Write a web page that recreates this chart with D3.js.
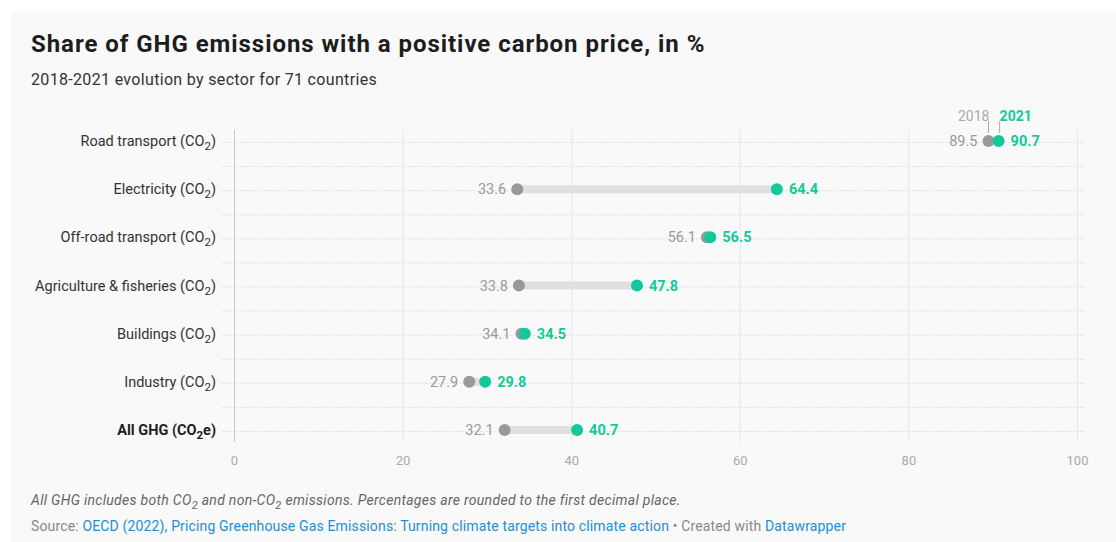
<!DOCTYPE html>
<html>
<head>
<meta charset="utf-8">
<script src="https://cdn.jsdelivr.net/npm/d3@7"></script>
<style>
  html, body { margin: 0; padding: 0; background: #ffffff; }
  svg { display: block; font-family: Roboto, "Noto Sans", sans-serif; }
</style>
</head>
<body>
<svg id="chart" width="1116" height="542"></svg>
<script>
// Sector labels: [main text, subscript, trailing text, bold]
const categories = [
  ["Road transport (CO", "2", ")", false],
  ["Electricity (CO", "2", ")", false],
  ["Off-road transport (CO", "2", ")", false],
  ["Agriculture & fisheries (CO", "2", ")", false],
  ["Buildings (CO", "2", ")", false],
  ["Industry (CO", "2", ")", false],
  ["All GHG (CO", "2", "e)", true]
];
const values2018 = [89.5, 33.6, 56.1, 33.8, 34.1, 27.9, 32.1];
const values2021 = [90.7, 64.4, 56.5, 47.8, 34.5, 29.8, 40.7];
const xTicks = [0, 20, 40, 60, 80, 100];
const seriesNames = ["2018", "2021"];

const GREEN = "#13c99b";
const GREY = "#999999";

const svg = d3.select("#chart");

// panel background
svg.append("rect").attr("x", 11).attr("y", 12).attr("width", 1105).attr("height", 530).attr("fill", "#f9f9f9");

// title and subtitle
svg.append("text").attr("x", 31).attr("y", 52)
  .attr("font-size", 24).attr("font-weight", 700).attr("fill", "#1d1d1d")
  .attr("letter-spacing", 0.95)
  .text("Share of GHG emissions with a positive carbon price, in %");
svg.append("text").attr("x", 31).attr("y", 85)
  .attr("font-size", 16).attr("fill", "#333").attr("letter-spacing", 0.33)
  .text("2018-2021 evolution by sector for 71 countries");

const keys = categories.map((c, i) => i);
const x = d3.scaleLinear().domain([0, 100]).range([234, 1077]);
const y = d3.scalePoint().domain(keys).range([141, 430]);
const step = y.step();

// dotted horizontal guides at each row and halfway between rows
const guideYs = [];
keys.forEach((k, i) => {
  guideYs.push(y(k));
  if (i < keys.length - 1) guideYs.push(y(k) + step / 2);
});
svg.append("g").selectAll("line").data(guideYs).join("line")
  .attr("x1", 222).attr("x2", 1086)
  .attr("y1", d => d + 1.5).attr("y2", d => d + 1.5)
  .attr("stroke", "#dcdcdc").attr("stroke-width", 1)
  .attr("stroke-dasharray", "1.5,1.5");

// vertical grid + x axis labels
const xAxis = d3.axisBottom(x).tickValues(xTicks).tickSize(-(442 - 130)).tickPadding(14);
const gx = svg.append("g").attr("transform", "translate(0,442)").call(xAxis);
gx.select(".domain").remove();
gx.selectAll(".tick line").attr("stroke", d => d === 0 ? "#c8c8c8" : "#e6e6e6").attr("stroke-width", 1);
gx.selectAll(".tick text").attr("font-size", 13).attr("fill", "#aaa")
  .attr("font-family", "Roboto, sans-serif");

// category labels
const labels = svg.append("g").selectAll("text").data(keys).join("text")
  .attr("x", 216).attr("y", k => y(k) + 5)
  .attr("text-anchor", "end").attr("font-size", 14.5)
  .attr("fill", k => categories[k][3] ? "#1d1d1d" : "#333")
  .attr("font-weight", k => categories[k][3] ? 700 : 400);
labels.each(function(k) {
  const t = d3.select(this);
  const c = categories[k];
  t.append("tspan").text(c[0]);
  t.append("tspan").attr("font-size", 11.5).attr("dy", 4).text(c[1]);
  t.append("tspan").attr("dy", -4).text(c[2]);
});

// range bars
const rows = svg.append("g").selectAll("g").data(keys).join("g");
rows.append("line")
  .attr("x1", k => x(values2018[k])).attr("x2", k => x(values2021[k]))
  .attr("y1", k => y(k)).attr("y2", k => y(k))
  .attr("stroke", "#e0e0e0").attr("stroke-width", 8);
rows.append("circle")
  .attr("cx", k => x(values2018[k])).attr("cy", k => y(k)).attr("r", 6)
  .attr("fill", GREY);
rows.append("circle")
  .attr("cx", k => x(values2021[k])).attr("cy", k => y(k)).attr("r", 6)
  .attr("fill", GREEN);

// value labels
rows.append("text")
  .attr("x", k => x(values2018[k]) - 11).attr("y", k => y(k) + 5)
  .attr("text-anchor", "end").attr("font-size", 14.5).attr("fill", GREY)
  .text(k => values2018[k].toFixed(1));
rows.append("text")
  .attr("x", k => x(values2021[k]) + 12).attr("y", k => y(k) + 5)
  .attr("font-size", 14.5).attr("font-weight", 700).attr("fill", GREEN)
  .text(k => values2021[k].toFixed(1));

// series key above the first row
const k0 = keys[0];
const lx18 = x(values2018[k0]), lx21 = x(values2021[k0]);
svg.append("line").attr("x1", lx18).attr("x2", lx18).attr("y1", 121).attr("y2", 133)
  .attr("stroke", "#aaa").attr("stroke-width", 1);
svg.append("line").attr("x1", lx21 + 1).attr("x2", lx21 + 1).attr("y1", 121).attr("y2", 133)
  .attr("stroke", "#aaa").attr("stroke-width", 1);
svg.append("text").attr("x", lx18 + 1).attr("y", 121)
  .attr("text-anchor", "end").attr("font-size", 14).attr("fill", "#aaa")
  .text(seriesNames[0]);
svg.append("text").attr("x", lx21 + 1).attr("y", 121)
  .attr("font-size", 14).attr("font-weight", 700).attr("fill", GREEN)
  .text(seriesNames[1]);

// notes
const note = svg.append("text").attr("x", 31).attr("y", 505)
  .attr("font-size", 14).attr("font-style", "italic").attr("fill", "#666")
  .attr("letter-spacing", 0.3);
note.append("tspan").text("All GHG includes both CO");
note.append("tspan").attr("font-size", 11).attr("dy", 4).text("2");
note.append("tspan").attr("dy", -4).text(" and non-CO");
note.append("tspan").attr("font-size", 11).attr("dy", 4).text("2");
note.append("tspan").attr("dy", -4).text(" emissions. Percentages are rounded to the first decimal place.");

const src = svg.append("text").attr("x", 31).attr("y", 531).attr("font-size", 14)
  .attr("fill", "#888").attr("letter-spacing", 0.15);
src.append("tspan").text("Source: ");
src.append("tspan").attr("fill", "#1d8fd3").text("OECD (2022), Pricing Greenhouse Gas Emissions: Turning climate targets into climate action");
src.append("tspan").text(" • Created with ");
src.append("tspan").attr("fill", "#1d8fd3").text("Datawrapper");
</script>
</body>
</html>
